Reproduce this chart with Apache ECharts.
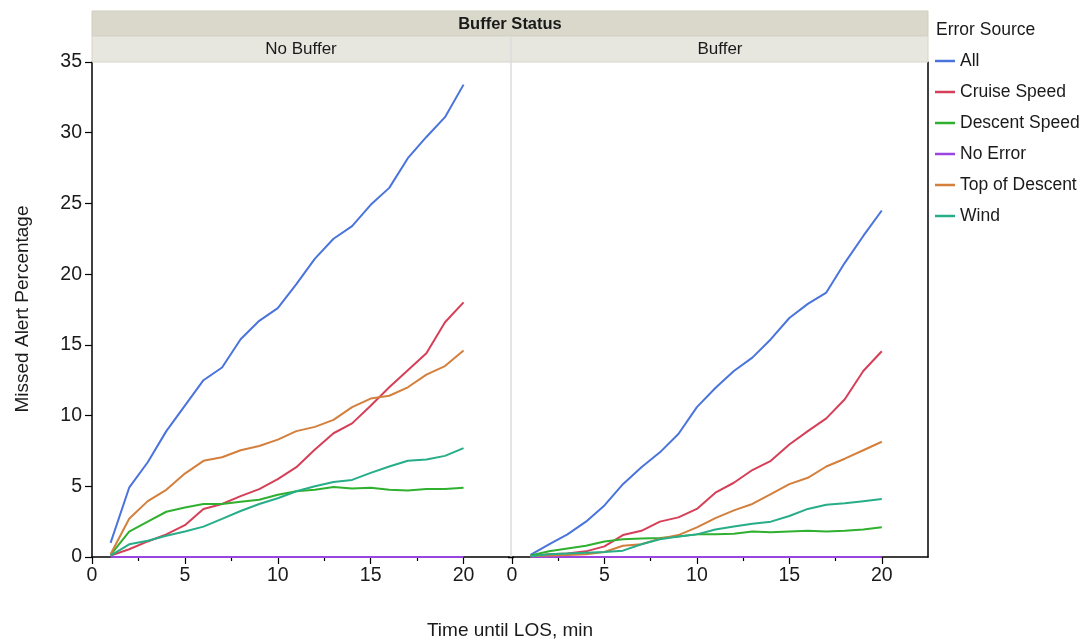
<!DOCTYPE html>
<html>
<head>
<meta charset="utf-8">
<script src="https://cdn.jsdelivr.net/npm/echarts@6/dist/echarts.min.js"></script>
<style>
  html, body { margin: 0; padding: 0; background: #ffffff; }
  #chart { width: 1081px; height: 639px; }
</style>
</head>
<body>
<div id="chart"></div>
<script>
// ---- Data ----
const times = [1, 2, 3, 4, 5, 6, 7, 8, 9, 10, 11, 12, 13, 14, 15, 16, 17, 18, 19, 20];
const seriesNames = ['All', 'Cruise Speed', 'Descent Speed', 'No Error', 'Top of Descent', 'Wind'];
const panelNames = ['No Buffer', 'Buffer'];
const xTicks = [0, 5, 10, 15, 20];
const xMinorTicks = [2.5, 7.5, 12.5, 17.5];

// No Buffer panel
const noBufAll     = [1.0, 4.9, 6.7, 8.9, 10.7, 12.5, 13.4, 15.4, 16.7, 17.6, 19.3, 21.1, 22.5, 23.4, 24.9, 26.1, 28.2, 29.7, 31.1, 33.4];
const noBufCruise  = [0.1, 0.55, 1.1, 1.6, 2.25, 3.4, 3.75, 4.3, 4.8, 5.5, 6.35, 7.6, 8.75, 9.45, 10.7, 12.0, 13.2, 14.4, 16.6, 18.0];
const noBufDescent = [0.15, 1.8, 2.5, 3.2, 3.5, 3.75, 3.75, 3.9, 4.05, 4.4, 4.65, 4.75, 4.95, 4.85, 4.9, 4.75, 4.7, 4.8, 4.8, 4.9];
const noBufNoError = [0, 0, 0, 0, 0, 0, 0, 0, 0, 0, 0, 0, 0, 0, 0, 0, 0, 0, 0, 0];
const noBufTOD     = [0.2, 2.7, 3.95, 4.75, 5.9, 6.8, 7.05, 7.55, 7.85, 8.3, 8.9, 9.2, 9.7, 10.6, 11.2, 11.4, 12.0, 12.9, 13.5, 14.6];
const noBufWind    = [0.1, 0.9, 1.15, 1.5, 1.8, 2.15, 2.7, 3.25, 3.75, 4.15, 4.65, 5.0, 5.3, 5.45, 5.95, 6.4, 6.8, 6.9, 7.15, 7.7];

// Buffer panel
const bufAll     = [0.15, 0.9, 1.6, 2.5, 3.65, 5.15, 6.35, 7.4, 8.7, 10.6, 11.95, 13.15, 14.1, 15.4, 16.9, 17.9, 18.7, 20.8, 22.7, 24.5];
const bufCruise  = [0.05, 0.2, 0.25, 0.4, 0.75, 1.55, 1.85, 2.5, 2.8, 3.4, 4.55, 5.25, 6.15, 6.8, 7.95, 8.9, 9.8, 11.15, 13.15, 14.55];
const bufDescent = [0.1, 0.4, 0.6, 0.8, 1.1, 1.25, 1.3, 1.35, 1.45, 1.6, 1.6, 1.65, 1.8, 1.75, 1.8, 1.85, 1.8, 1.85, 1.95, 2.1];
const bufNoError = [0, 0, 0, 0, 0, 0, 0, 0, 0, 0, 0, 0, 0, 0, 0, 0, 0, 0, 0, 0];
const bufTOD     = [0.05, 0.1, 0.15, 0.2, 0.35, 0.8, 0.9, 1.3, 1.55, 2.1, 2.75, 3.3, 3.75, 4.45, 5.15, 5.6, 6.4, 6.95, 7.55, 8.15];
const bufWind    = [0.05, 0.2, 0.25, 0.3, 0.35, 0.45, 0.9, 1.25, 1.45, 1.6, 1.95, 2.15, 2.35, 2.5, 2.9, 3.4, 3.7, 3.8, 3.95, 4.1];

const panelData = [
  [noBufAll, noBufCruise, noBufDescent, noBufNoError, noBufTOD, noBufWind],
  [bufAll, bufCruise, bufDescent, bufNoError, bufTOD, bufWind]
];

// ---- Styling ----
const colors = ['#4a74dc', '#d63f58', '#2fb02f', '#9b45e0', '#d47f3c', '#27ad88'];
const FONT = "'Liberation Sans', Arial, Helvetica, sans-serif";
const TXT = '#1a1a1a';

const chart = echarts.init(document.getElementById('chart'), null, { renderer: 'canvas' });

const grids = [
  { left: 92, top: 62, width: 418, height: 495 },
  { left: 512, top: 62, width: 416, height: 495 }
];

function mainX(gi) {
  return {
    type: 'value', gridIndex: gi, min: 0, max: 22.5, position: 'bottom',
    axisLine: { show: true, onZero: false, lineStyle: { color: '#000', width: 1.5 } },
    axisTick: { show: true, length: 7, customValues: xTicks, lineStyle: { color: '#000', width: 1.2 } },
    axisLabel: { show: true, customValues: xTicks, margin: 9, color: TXT, fontSize: 19.5, fontFamily: FONT },
    splitLine: { show: false }
  };
}
function minorX(gi) {
  return {
    type: 'value', gridIndex: gi, min: 0, max: 22.5, position: 'bottom',
    axisLine: { show: false, onZero: false },
    axisTick: { show: true, length: 4, customValues: xMinorTicks, lineStyle: { color: '#000', width: 1.2 } },
    axisLabel: { show: false },
    splitLine: { show: false }
  };
}

const xAxes = [mainX(0), minorX(0), mainX(1), minorX(1)];
const yAxes = [
  {
    type: 'value', gridIndex: 0, min: 0, max: 35, interval: 5, position: 'left',
    axisLine: { show: true, onZero: false, lineStyle: { color: '#000', width: 1.5 } },
    axisTick: { show: true, length: 7, lineStyle: { color: '#000', width: 1.2 } },
    axisLabel: { margin: 10, color: TXT, fontSize: 19.5, fontFamily: FONT },
    splitLine: { show: false }
  },
  {
    type: 'value', gridIndex: 1, min: 0, max: 35, interval: 5, position: 'right',
    axisLine: { show: true, onZero: false, lineStyle: { color: '#000', width: 1.5 } },
    axisTick: { show: false },
    axisLabel: { show: false },
    splitLine: { show: false }
  }
];

const series = [];
panelData.forEach((arrs, p) => {
  arrs.forEach((vals, k) => {
    series.push({
      type: 'line',
      name: seriesNames[k],
      xAxisIndex: p * 2,
      yAxisIndex: p,
      data: times.map((t, i) => [t, vals[i]]),
      showSymbol: false,
      symbol: 'none',
      smooth: false,
      clip: false,
      lineStyle: { color: colors[k], width: 2 },
      itemStyle: { color: colors[k] },
      z: 3
    });
  });
});

const headerGraphics = [
  { type: 'rect', shape: { x: 92, y: 11, width: 836, height: 25 }, style: { fill: '#dad8cb', stroke: '#cfcdbf', lineWidth: 1 }, z: 1 },
  { type: 'rect', shape: { x: 92, y: 36, width: 836, height: 26 }, style: { fill: '#e8e7df', stroke: '#d6d4c8', lineWidth: 1 }, z: 1 },
  { type: 'line', shape: { x1: 511, y1: 36, x2: 511, y2: 557 }, style: { stroke: '#dcdcdc', lineWidth: 1.5 }, z: 1 },
  { type: 'line', shape: { x1: 508, y1: 557.5, x2: 514, y2: 557.5 }, style: { stroke: '#000', lineWidth: 1.5 }, z: 2 },
  { type: 'text', x: 510, y: 24, style: { text: 'Buffer Status', font: 'bold 16.5px ' + FONT, fill: TXT, textAlign: 'center', textVerticalAlign: 'middle' }, z: 5 },
  { type: 'text', x: 301, y: 49, style: { text: panelNames[0], font: '17px ' + FONT, fill: TXT, textAlign: 'center', textVerticalAlign: 'middle' }, z: 5 },
  { type: 'text', x: 720, y: 49, style: { text: panelNames[1], font: '17px ' + FONT, fill: TXT, textAlign: 'center', textVerticalAlign: 'middle' }, z: 5 },
  { type: 'text', x: 936, y: 30, style: { text: 'Error Source', font: '17.5px ' + FONT, fill: TXT, textAlign: 'left', textVerticalAlign: 'middle' }, z: 5 },
  { type: 'text', x: 23, y: 309, rotation: Math.PI / 2, style: { text: 'Missed Alert Percentage', font: '19px ' + FONT, fill: TXT, textAlign: 'center', textVerticalAlign: 'middle' }, z: 5 },
  { type: 'text', x: 510, y: 631, style: { text: 'Time until LOS, min', font: '19px ' + FONT, fill: TXT, textAlign: 'center', textVerticalAlign: 'middle' }, z: 5 }
];

chart.setOption({
  animation: false,
  backgroundColor: '#ffffff',
  color: colors,
  grid: grids,
  xAxis: xAxes,
  yAxis: yAxes,
  legend: {
    show: true,
    orient: 'vertical',
    left: 935,
    top: 51,
    padding: 0,
    icon: 'rect',
    itemWidth: 20,
    itemHeight: 2.5,
    itemGap: 11,
    data: seriesNames,
    textStyle: { color: TXT, fontSize: 17.5, fontFamily: FONT, lineHeight: 20 },
    selectedMode: false
  },
  graphic: headerGraphics,
  series: series
});
</script>
</body>
</html>
